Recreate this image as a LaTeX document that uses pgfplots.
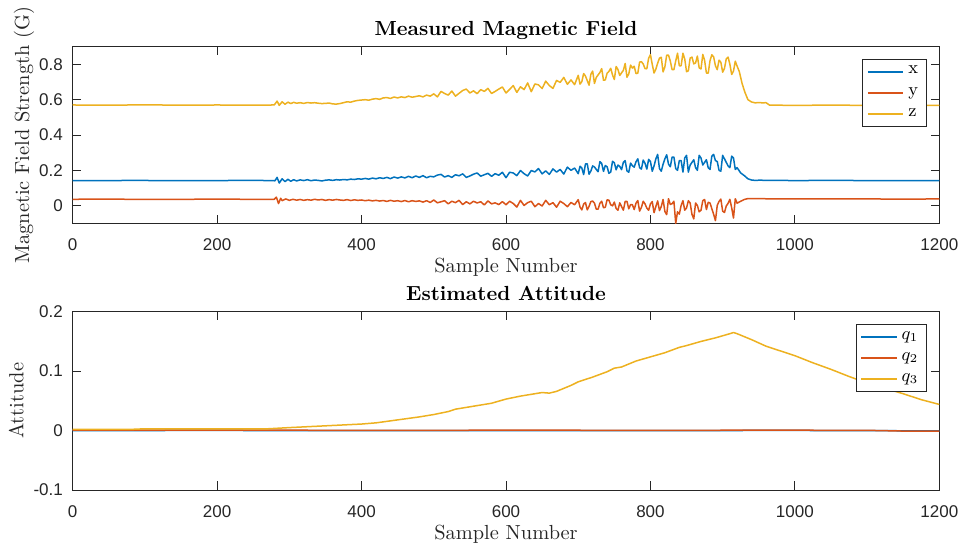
\documentclass[border=0pt]{standalone}
\usepackage{fontspec}
\usepackage{pgfplots}
\pgfplotsset{compat=1.18}
\newfontfamily\tickfont{Liberation Sans}
\definecolor{mblue}{rgb}{0,0.447,0.741}
\definecolor{mred}{rgb}{0.85,0.325,0.098}
\definecolor{myellow}{rgb}{0.929,0.694,0.125}
\definecolor{axgray}{rgb}{0.15,0.15,0.15}
\pgfplotsset{
  mstyle/.style={
    scale only axis, width=433.3pt,
    xmin=0, xmax=1200,
    axis line style={axgray, line width=0.5pt},
    every tick/.style={axgray, line width=0.5pt},
    major tick length=4.3pt,
    tick align=inside,
    xtick={0,200,400,600,800,1000,1200},
    xticklabels={0,200,400,600,800,1000,1200},
    ticklabel style={font=\tickfont\fontsize{8.5}{10}\selectfont, text=axgray},
    xticklabel style={yshift=-4.3pt},
    yticklabel style={xshift=-1.4pt},
    xlabel={Sample Number},
    xlabel style={font=\fontsize{10.2}{12}\selectfont, text=axgray, at={(axis description cs:0.5,0)}, anchor=base, yshift=-24.8pt},
    title style={font=\fontsize{10.2}{12}\selectfont\bfseries, at={(axis description cs:0.5,1)}, anchor=base, yshift=-0.5pt},
    ylabel style={font=\fontsize{10.2}{12}\selectfont, text=axgray},
    legend style={font=\fontsize{9}{10}\selectfont, draw=axgray, fill=white, line width=0.5pt, inner xsep=2pt, inner ysep=1.5pt, row sep=1.2pt, cells={anchor=west}},
    legend image code/.code={\draw[#1, line width=1pt] (0pt,0pt) -- (17.8pt,0pt);},
    every axis plot/.append style={line width=0.75pt, line join=round},
  }
}
\begin{document}
\begin{tikzpicture}
\useasboundingbox (0,0) rectangle (481.5pt,274pt);
\begin{axis}[mstyle, height=88.3pt, at={(36.35pt,162.35pt)}, anchor=south west,
  ymin=-0.1, ymax=0.9,
  ytick={0,0.2,0.4,0.6,0.8}, yticklabels={0,0.2,0.4,0.6,0.8},
  title={Measured Magnetic Field},
  ylabel={Magnetic Field Strength (G)},
  ylabel style={at={(axis description cs:-0.0504,0.5)}, anchor=base, rotate=0},
  legend style={at={(axis description cs:0.9855,0.932)}, anchor=north east},
]
\addplot[mblue] coordinates {
(0,0.142)(40,0.141)(80,0.143)(120,0.142)(160,0.141)(200,0.142)(240,0.143)(279,0.142)
(280,0.140)(283,0.160)(286,0.128)(290,0.152)(294,0.136)(298,0.149)(302,0.138)(306,0.147)(310,0.140)(315,0.146)(320,0.142)(325,0.147)
(330,0.141)(335,0.145)(340,0.143)(345,0.140)(350,0.144)(355,0.146)(360,0.143)(365,0.147)(370,0.145)(375,0.148)
(380,0.146)(385,0.150)(390,0.148)(395,0.152)(400,0.150)(405,0.154)(410,0.150)(415,0.156)(420,0.152)(425,0.158)
(430,0.154)(435,0.160)(440,0.153)(445,0.162)(450,0.156)(455,0.163)(460,0.157)(465,0.166)(470,0.158)(475,0.168)
(480,0.160)(485,0.170)(490,0.158)(495,0.166)
(500,0.163)(505,0.173)(510,0.177)(515,0.162)(520,0.170)(525,0.160)(530,0.175)(535,0.169)(540,0.180)(545,0.160)
(550,0.168)(555,0.178)(560,0.185)(565,0.167)(570,0.175)(575,0.183)(580,0.166)(585,0.181)(590,0.172)(595,0.189)
(600,0.158)(605,0.189)(610,0.185)(615,0.170)(620,0.199)(625,0.181)(630,0.168)(635,0.199)(640,0.191)(645,0.210)
(650,0.180)(655,0.197)(660,0.177)(665,0.208)(670,0.190)(675,0.205)(680,0.179)(685,0.218)(690,0.200)(695,0.213)
(700,0.181)(702.5,0.223)(705,0.213)(707.5,0.176)(710,0.236)(712.5,0.237)(715,0.178)(717.5,0.196)(720,0.225)(722.5,0.219)
(725,0.205)(727.5,0.192)(730,0.249)(732.5,0.239)(735,0.194)(737.5,0.227)(740,0.220)(742.5,0.183)(745,0.190)(747.5,0.251)
(750,0.243)(752.5,0.203)(755,0.230)(757.5,0.222)(760,0.204)(762.5,0.245)(765,0.255)(767.5,0.197)(770,0.189)(772.5,0.241)
(775,0.226)(777.5,0.218)(780,0.248)(782.5,0.265)(785,0.215)(787.5,0.207)(790,0.258)(792.5,0.240)(795,0.207)(797.5,0.262)
(800,0.250)(802.5,0.195)(805,0.225)(807.5,0.265)(810,0.290)(812.5,0.210)(815,0.195)(817.5,0.235)(820,0.265)(822.5,0.288)
(825,0.235)(827.5,0.220)(830,0.275)(832.5,0.275)(835,0.210)(837.5,0.200)(840,0.255)(842.5,0.255)(845,0.190)(847.5,0.270)
(850,0.285)(852.5,0.190)(855,0.230)(857.5,0.245)(860,0.260)(862.5,0.215)(865,0.200)(867.5,0.285)(870,0.270)(872.5,0.230)
(875,0.245)(877.5,0.260)(880,0.215)(882.5,0.205)(885,0.280)(887.5,0.290)(890,0.255)(892.5,0.250)(895,0.200)(897.5,0.195)
(900,0.285)(902.5,0.265)(905,0.245)(907.5,0.225)(910,0.215)(912.5,0.280)(915,0.270)(917.5,0.205)(920,0.215)(925,0.185)
(930,0.170)(935,0.152)(940,0.145)(945,0.143)(950,0.144)(1000,0.142)(1050,0.143)(1100,0.142)(1150,0.141)(1200,0.142)
};
\addlegendentry{x}
\addplot[mred] coordinates {
(0,0.036)(40,0.037)(80,0.036)(120,0.035)(160,0.036)(200,0.037)(240,0.036)(279,0.036)
(280,0.040)(282,0.048)(285,0.012)(288,0.042)(290,0.028)(295,0.038)(300,0.030)(305,0.036)(310,0.031)(315,0.035)
(320,0.030)(325,0.034)(330,0.031)(335,0.036)(340,0.032)(345,0.035)(350,0.030)(355,0.034)(360,0.031)(365,0.035)
(370,0.032)(375,0.030)(380,0.034)(385,0.029)(390,0.033)(395,0.030)(400,0.032)(405,0.028)(410,0.031)(415,0.027)
(420,0.030)(425,0.026)(430,0.029)(435,0.024)(440,0.030)(445,0.025)(450,0.028)(455,0.023)(460,0.029)(465,0.022)
(470,0.028)(475,0.024)(480,0.027)(485,0.020)(490,0.028)(495,0.018)
(500,0.032)(505,0.016)(510,0.022)(515,0.028)(520,0.010)(525,0.025)(530,0.017)(535,0.030)(540,0.006)(545,0.022)
(550,0.010)(555,0.025)(560,0.015)(565,0.022)(570,0.004)(575,0.027)(580,0.010)(585,0.016)(590,0.006)(595,0.023)
(600,0.005)(605,0.025)(610,0.012)(615,-0.008)(620,0.030)(625,0.001)(630,0.017)(635,0.025)(640,-0.006)(645,0.012)
(650,-0.002)(655,0.030)(660,0.005)(665,0.017)(670,-0.009)(675,0.025)(680,0.012)(685,-0.006)(690,0.018)(695,0.005)
(700,0.034)(702.5,-0.008)(705,-0.024)(707.5,0.009)(710,0.018)(712.5,-0.024)(715,-0.004)(717.5,0.023)(720,0.026)(722.5,0.014)
(725,-0.020)(727.5,-0.020)(730,0.013)(732.5,0.025)(735,-0.012)(737.5,-0.009)(740,0.033)(742.5,0.031)(745,0.005)(747.5,-0.001)
(750,0.020)(752.5,-0.016)(755,-0.026)(757.5,0.016)(760,-0.005)(762.5,-0.026)(765,0.024)(767.5,0.024)(770,-0.018)(772.5,0.006)
(775,0.005)(777.5,-0.022)(780,0.014)(782.5,0.029)(785,-0.031)(787.5,-0.010)(790,0.025)(792.5,0.010)(795,-0.014)(797.5,-0.026)
(800,0.010)(802.5,0.023)(805,-0.040)(807.5,-0.005)(810,0.027)(812.5,-0.028)(815,-0.005)(817.5,0.035)(820,-0.033)(822.5,-0.051)
(825,0.039)(827.5,0.007)(830,0.011)(832.5,0.025)(835,-0.100)(837.5,-0.035)(840,-0.048)(842.5,0.001)(845,0.028)(847.5,-0.026)
(850,-0.013)(852.5,0.028)(855,0.015)(857.5,-0.049)(860,-0.075)(862.5,0.015)(865,0.001)(867.5,-0.035)(870,-0.026)(872.5,0.028)
(875,0.035)(877.5,-0.022)(880,0.019)(882.5,0.015)(885,-0.017)(887.5,-0.049)(890,-0.085)(892.5,0.001)(895,0.024)(897.5,0.037)
(900,-0.031)(902.5,-0.039)(905,-0.002)(907.5,0.013)(910,0.036)(912.5,-0.012)(915,-0.070)(917.5,0.039)(920,0.014)(925,0.025)
(930,0.035)(935,0.040)(940,0.040)(960,0.039)(1000,0.038)(1050,0.039)(1100,0.038)(1150,0.037)(1200,0.038)
};
\addlegendentry{y}
\addplot[myellow] coordinates {
(0,0.570)(40,0.569)(80,0.570)(120,0.570)(160,0.569)(200,0.570)(240,0.569)(279,0.570)
(280,0.575)(283,0.592)(286,0.568)(290,0.588)(294,0.574)(298,0.586)(302,0.578)(306,0.585)(310,0.580)(315,0.583)(320,0.579)(325,0.584)
(330,0.581)(335,0.583)(340,0.580)(345,0.578)(350,0.579)(355,0.581)(360,0.576)(365,0.575)(370,0.578)(375,0.583)
(380,0.588)(385,0.586)(390,0.592)(395,0.596)(400,0.598)(405,0.600)(410,0.597)(415,0.603)(420,0.606)(425,0.602)
(430,0.610)(435,0.612)(440,0.607)(445,0.615)(450,0.610)(455,0.616)(460,0.612)(465,0.620)(470,0.614)(475,0.618)
(480,0.622)(485,0.616)(490,0.626)(495,0.620)
(500,0.633)(505,0.616)(510,0.647)(515,0.635)(520,0.626)(525,0.649)(530,0.620)(535,0.636)(540,0.652)(545,0.660)
(550,0.638)(555,0.650)(560,0.634)(565,0.657)(570,0.647)(575,0.664)(580,0.635)(585,0.647)(590,0.660)(595,0.672)
(600,0.638)(605,0.658)(610,0.680)(615,0.641)(620,0.673)(625,0.657)(630,0.695)(635,0.645)(640,0.689)(645,0.684)
(650,0.663)(655,0.705)(660,0.680)(665,0.664)(670,0.709)(675,0.698)(680,0.726)(685,0.687)(690,0.712)(695,0.685)
(700,0.738)(702.5,0.688)(705,0.702)(707.5,0.748)(710,0.734)(712.5,0.708)(715,0.682)(717.5,0.744)(720,0.762)(722.5,0.692)
(725,0.726)(727.5,0.740)(730,0.754)(732.5,0.776)(735,0.710)(737.5,0.712)(740,0.750)(742.5,0.760)(745,0.778)(747.5,0.740)
(750,0.714)(752.5,0.788)(755,0.771)(757.5,0.737)(760,0.752)(762.5,0.766)(765,0.805)(767.5,0.727)(770,0.746)(772.5,0.796)
(775,0.779)(777.5,0.789)(780,0.748)(782.5,0.750)(785,0.813)(787.5,0.815)(790,0.802)(792.5,0.776)(795,0.775)(797.5,0.835)
(800,0.855)(802.5,0.800)(805,0.751)(807.5,0.773)(810,0.807)(812.5,0.835)(815,0.840)(817.5,0.757)(820,0.786)(822.5,0.852)
(825,0.852)(827.5,0.819)(830,0.770)(832.5,0.770)(835,0.819)(837.5,0.863)(840,0.792)(842.5,0.792)(845,0.863)(847.5,0.830)
(850,0.758)(852.5,0.764)(855,0.836)(857.5,0.841)(860,0.803)(862.5,0.808)(865,0.847)(867.5,0.780)(870,0.774)(872.5,0.856)
(875,0.823)(877.5,0.751)(880,0.750)(882.5,0.821)(885,0.854)(887.5,0.843)(890,0.792)(892.5,0.770)(895,0.824)(897.5,0.812)
(900,0.756)(902.5,0.777)(905,0.831)(907.5,0.841)(910,0.800)(912.5,0.743)(915,0.762)(917.5,0.818)(920,0.790)(923,0.760)(927,0.690)
(931,0.640)(935,0.600)(940,0.587)(945,0.582)(950,0.584)(955,0.582)(960,0.583)(965,0.569)(1000,0.568)(1050,0.569)(1100,0.568)(1150,0.569)(1200,0.568)
};
\addlegendentry{z}
\end{axis}
\begin{axis}[mstyle, height=89.15pt, at={(36.35pt,29pt)}, anchor=south west,
  ymin=-0.1, ymax=0.2,
  ytick={-0.1,0,0.1,0.2}, yticklabels={-0.1,0,0.1,0.2},
  title={Estimated Attitude},
  ylabel={Attitude},
  ylabel style={at={(axis description cs:-0.057,0.5)}, anchor=base, rotate=0},
  legend style={at={(axis description cs:0.9855,0.931)}, anchor=north east},
]
\addplot[mblue] coordinates {(0,0)(200,0.0002)(400,-0.0002)(600,0.0001)(800,0)(1000,0.0002)(1200,-0.0005)};
\addlegendentry{$q_1$}
\addplot[mred] coordinates {(0,0.0006)(200,0.0008)(400,0.0004)(600,0.0006)(800,0.0005)(1000,0.0006)(1100,0.0004)(1150,-0.0008)(1200,-0.001)};
\addlegendentry{$q_2$}
\addplot[myellow] coordinates {
(0,0.002)(80,0.002)(100,0.003)(200,0.003)(270,0.003)(300,0.005)(350,0.008)(400,0.011)(420,0.013)(450,0.018)
(480,0.023)(500,0.027)(520,0.032)(530,0.036)(550,0.040)(580,0.046)(600,0.053)(620,0.058)(640,0.062)(650,0.064)
(660,0.063)(670,0.066)(690,0.076)(700,0.082)(720,0.090)(740,0.099)(750,0.105)(760,0.107)(780,0.117)(800,0.124)
(820,0.131)(840,0.140)(850,0.143)(870,0.150)(890,0.156)(910,0.163)(915,0.165)(920,0.163)(940,0.153)(960,0.142)
(980,0.134)(1000,0.126)(1025,0.114)(1050,0.103)(1075,0.091)(1100,0.080)(1125,0.071)(1150,0.062)(1175,0.052)(1200,0.044)
};
\addlegendentry{$q_3$}
\end{axis}
\end{tikzpicture}
\end{document}
